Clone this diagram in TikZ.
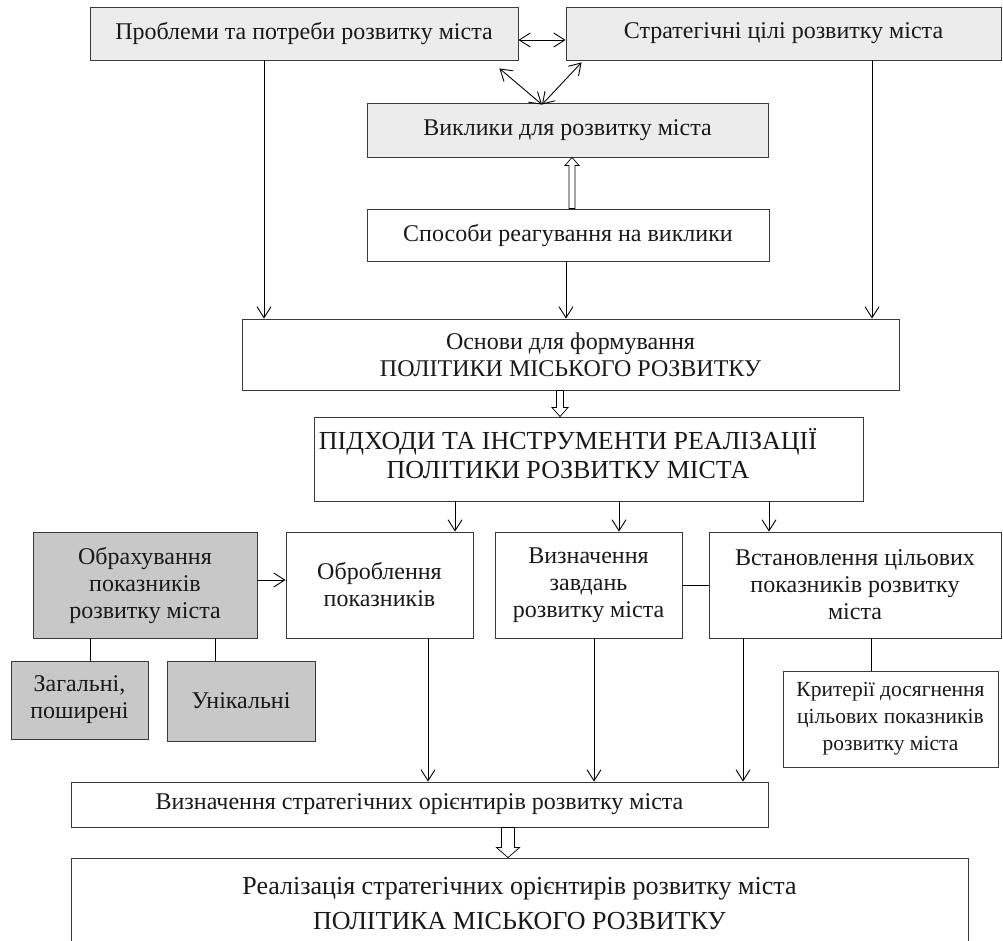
\documentclass[tikz,border=0pt]{standalone}
\usepackage{fontspec}
\setmainfont{Liberation Serif}
\usetikzlibrary{arrows.meta,calc}
\definecolor{boxline}{HTML}{3A3A3A}
\definecolor{lightfill}{HTML}{ECECEC}
\definecolor{darkfill}{HTML}{C8C8C8}
\newcommand\hollowarrow[5]{% start, tip, half shaft width, half head extra, head length
  \filldraw[draw=black, line width=0.7pt, fill=white] let \p1=(#1), \p2=(#2), \n1={ifthenelse(\y2>\y1,1,-1)} in
    (\x1-#3,\y1) -- (\x2-#3,\y2-\n1*#5) -- (\x2-#3-#4,\y2-\n1*#5) -- (\x2,\y2)
    -- (\x2+#3+#4,\y2-\n1*#5) -- (\x2+#3,\y2-\n1*#5) -- (\x1+#3,\y1) -- cycle;}
\tikzset{
  box/.style={draw=boxline, line width=0.9pt, inner sep=0pt, align=center,
    font=\fontsize{24}{27}\selectfont, text=black!90},
  lbox/.style={box, fill=lightfill},
  dbox/.style={box, fill=darkfill},
  wbox/.style={box, fill=white},
  conn/.style={draw=black, line width=0.9pt},
  arr/.style={conn, -{Straight Barb[length=11pt,width=14pt,line width=0.9pt]}},
  darr/.style={conn, {Straight Barb[length=11pt,width=14pt,line width=0.9pt]}-{Straight Barb[length=11pt,width=14pt,line width=0.9pt]}},
}
\begin{document}
\begin{tikzpicture}[x=1pt,y=-1pt]
\useasboundingbox (0,0) rectangle (1003,940);
\clip (0,0) rectangle (1003,940);
% boxes
\node[lbox, minimum width=428pt, minimum height=53pt] (A) at (304,33.5) {Проблеми та потреби розвитку міста};
\node[lbox, minimum width=435pt, minimum height=53pt] (B) at (783.5,33.5) {Стратегічні цілі розвитку міста};
\node[lbox, minimum width=401pt, minimum height=54pt] (C) at (567.5,130) {Виклики для розвитку міста};
\node[wbox, minimum width=402pt, minimum height=52pt] (D) at (568,235) {Способи реагування на виклики};
\node[wbox, minimum width=657pt, minimum height=71pt] (E) at (570.5,354.5) {Основи для формування\\ПОЛІТИКИ МІСЬКОГО РОЗВИТКУ};
\node[wbox, minimum width=549pt, minimum height=84pt] (F) at (588.5,459) {};
\node[box, draw=none, anchor=center, font=\fontsize{26}{29}\selectfont] (Ft) at (568,454) {ПІДХОДИ ТА ІНСТРУМЕНТИ РЕАЛІЗАЦІЇ\\ПОЛІТИКИ РОЗВИТКУ МІСТА};
\node[dbox, minimum width=224pt, minimum height=106pt] (H) at (145,585) {Обрахування\\показників\\розвитку міста};
\node[wbox, minimum width=187pt, minimum height=106pt] (G) at (379.5,585) {Оброблення\\показників};
\node[wbox, minimum width=187pt, minimum height=106pt] (J) at (588.5,585) {Визначення\\завдань\\розвитку міста};
\node[wbox, minimum width=292pt, minimum height=106pt] (K) at (855,585) {Встановлення цільових\\показників розвитку\\міста};
\node[dbox, minimum width=137pt, minimum height=78pt] (I) at (79.5,700) {Загальні,\\поширені};
\node[dbox, minimum width=148pt, minimum height=80pt] (U) at (241,701) {Унікальні};
\node[wbox, minimum width=215pt, minimum height=96pt, font=\fontsize{21.5}{27}\selectfont] (L) at (890.5,719) {Критерії досягнення\\цільових показників\\розвитку міста};
\node[wbox, minimum width=697pt, minimum height=45pt] (M) at (419.5,804.5) {Визначення стратегічних орієнтирів розвитку міста};
\node[wbox, minimum width=897pt, minimum height=92pt, font=\fontsize{26}{35}\selectfont] (N) at (519.5,904) {Реалізація стратегічних орієнтирів розвитку міста\\ПОЛІТИКА МІСЬКОГО РОЗВИТКУ};
% top connectors
\draw[darr] ([yshift=-6.5pt]A.east) -- ([yshift=-6.5pt]B.west);
\coordinate (cm) at ([xshift=-25.5pt,yshift=-2pt]C.north);
\draw[darr] ([xshift=-19pt,yshift=-8pt]A.south east) -- (cm);
\draw[darr] ([xshift=16pt,yshift=-2pt]B.south west) -- (cm);
\draw[arr] ([xshift=-40pt]A.south) -- ([xshift=-40pt]A.south |- E.north);
\draw[arr] ([xshift=88.5pt]B.south) -- ([xshift=88.5pt]B.south |- E.north);
\draw[arr] ([xshift=-2pt]D.south) -- ([xshift=-2pt]D.south |- E.north);
\hollowarrow{[xshift=4pt]D.north}{[xshift=4.5pt]C.south}{3pt}{4pt}{8pt}
\hollowarrow{[xshift=-10.5pt]E.south}{[xshift=-10.5pt]E.south |- F.north}{3.5pt}{4.5pt}{9pt}
% F to row
\draw[arr] ([xshift=75.5pt]G.north |- F.south) -- ([xshift=75.5pt]G.north);
\draw[arr] ([xshift=30.5pt]J.north |- F.south) -- ([xshift=30.5pt]J.north);
\draw[arr] ([xshift=-86pt]K.north |- F.south) -- ([xshift=-86pt]K.north);
\draw[arr] ([yshift=5pt]H.east) -- ([yshift=5pt]G.west);
\draw[conn] (J.east) -- (K.west);
\draw[conn] ([xshift=-55pt]H.south) -- ([xshift=-55pt]H.south |- I.north);
\draw[conn] ([xshift=70pt]H.south) -- ([xshift=70pt]H.south |- U.north);
\draw[conn] ([xshift=16pt]K.south) -- ([xshift=16pt]K.south |- L.north);
% to M
\draw[arr] ([xshift=48.5pt]G.south) -- ([xshift=48.5pt]G.south |- M.north);
\draw[arr] ([xshift=5.5pt]J.south) -- ([xshift=5.5pt]J.south |- M.north);
\draw[arr] ([xshift=-112pt]K.south) -- ([xshift=-112pt]K.south |- M.north);
\hollowarrow{[xshift=88.5pt]M.south}{[xshift=88.5pt]M.south |- N.north}{6.5pt}{5pt}{10pt}
\end{tikzpicture}
\end{document}
